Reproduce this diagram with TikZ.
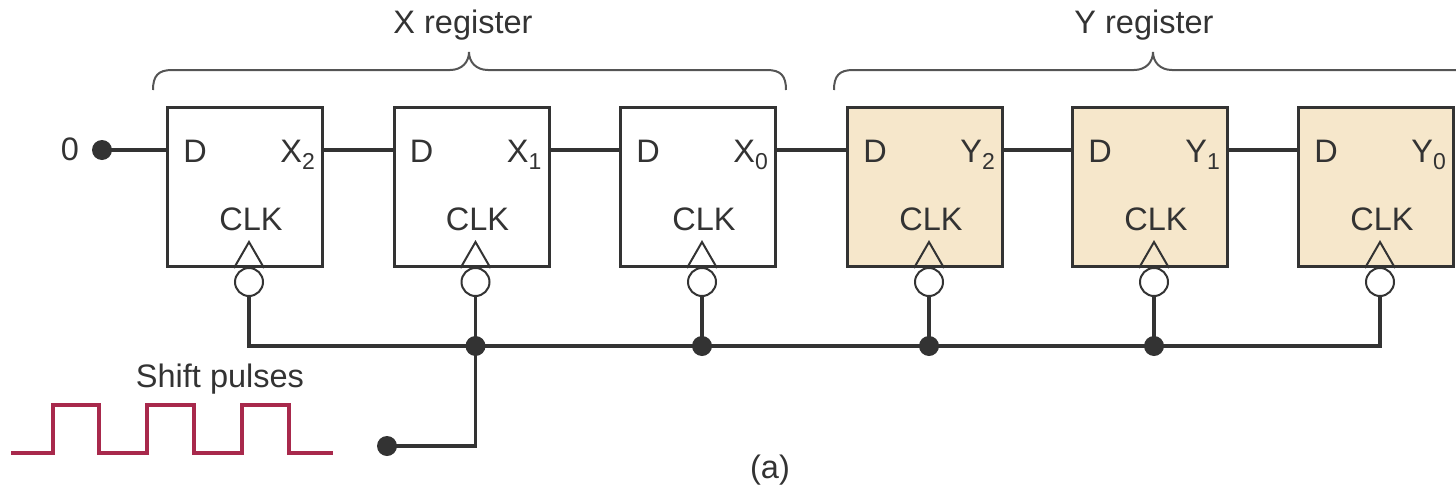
\documentclass[tikz,border=0pt]{standalone}
\usepackage{fontspec}
\setmainfont{Liberation Sans}
\definecolor{ink}{HTML}{333333}
\definecolor{beige}{HTML}{F6E7CB}
\definecolor{pulsec}{HTML}{A8294C}
\definecolor{bracec}{HTML}{555555}
\begin{document}
\begin{tikzpicture}[x=1pt,y=-1pt,
  ff/.style={draw=ink,line width=3pt,minimum width=155pt,minimum height=159pt,inner sep=0pt},
  txt/.style={text=ink,font=\fontsize{32.5}{38}\selectfont,inner sep=0pt},
  bub/.style={circle,draw=ink,fill=white,line width=2pt,minimum size=28pt,inner sep=0pt},
  dot/.style={circle,fill=ink,minimum size=20pt,inner sep=0pt},
  wire/.style={draw=ink,line width=3.5pt},
  clktri/.style={draw=ink,line width=2pt,line join=miter},
  bracepath/.style={draw=bracec,line width=2pt},
  pulsepath/.style={draw=pulsec,line width=3.5pt,line join=miter}]
\useasboundingbox (0,0) rectangle (1456,490);

% braces
\draw[bracepath] (153,90) .. controls (153,76) and (158,70) .. (172,70) -- (450,70)
  .. controls (462,70) and (469,62) .. (469,52)
  .. controls (469,62) and (476,70) .. (488,70) -- (767,70)
  .. controls (781,70) and (786,76) .. (786,90);
\draw[bracepath] (834,90) .. controls (834,76) and (839,70) .. (853,70) -- (1134,70)
  .. controls (1146,70) and (1153,62) .. (1153,52)
  .. controls (1153,62) and (1160,70) .. (1172,70) -- (1453,70)
  .. controls (1467,70) and (1472,76) .. (1472,90);
\node[txt,anchor=base] (xreg) at (463,33) {X register};
\node[txt,anchor=base] (yreg) at (1144,33) {Y register};

% flip-flops
\foreach \n/\cx/\L/\s/\fc in {X2/245/X/2/white, X1/471.5/X/1/white, X0/698/X/0/white,
    Y2/925/Y/2/beige, Y1/1150/Y/1/beige, Y0/1376/Y/0/beige}{
  \node[ff,fill=\fc] (\n) at (\cx,187) {};
  \node[txt,anchor=base] (\n-d) at (\cx-50,162) {D};
  \node[txt,anchor=base east] (\n-q) at (\cx+70,162) {\L\raisebox{-7pt}{\fontsize{23}{23}\selectfont\s}};
  \node[txt,anchor=base] (\n-c) at (\cx+6,230) {CLK};
  \draw[clktri] (\cx-11,268) -- (\cx+4,242) -- (\cx+19,268);
  \node[bub] (\n-b) at (\cx+4,282) {};
  \coordinate (\n-j) at (\cx+4,346);
}

% serial data path
\node[txt,anchor=base] (zerolab) at (70,160) {0};
\node[dot] (zero) at (102,150) {};
\draw[wire] (zero.center) -- (zero.center -| X2.west);
\draw[wire] (X2.east |- zero) -- (X1.west |- zero);
\draw[wire] (X1.east |- zero) -- (X0.west |- zero);
\draw[wire] (X0.east |- zero) -- (Y2.west |- zero);
\draw[wire] (Y2.east |- zero) -- (Y1.west |- zero);
\draw[wire] (Y1.east |- zero) -- (Y0.west |- zero);

% clock bus
\node[dot] (clkin) at (387,446) {};
\draw[wire] (X2-b.south) |- (Y0-j) -- (Y0-b.south);
\foreach \n in {X1,X0,Y2,Y1}{
  \draw[wire] (\n-b.south) -- (\n-j);
}
\draw[wire] (X1-j) |- (clkin.center);
\foreach \n in {X1,X0,Y2,Y1}{
  \node[dot] (\n-jd) at (\n-j) {};
}

% shift pulses
\draw[pulsepath] (11,453) -- (53,453) -- (53,405) -- (99,405) -- (99,453) -- (147,453)
  -- (147,405) -- (194,405) -- (194,453) -- (242,453) -- (242,405) -- (289,405)
  -- (289,453) -- (333,453);
\node[txt,anchor=base] (shift) at (220,387) {Shift pulses};
\node[txt,anchor=base] (cap) at (770,478) {(a)};
\end{tikzpicture}
\end{document}
